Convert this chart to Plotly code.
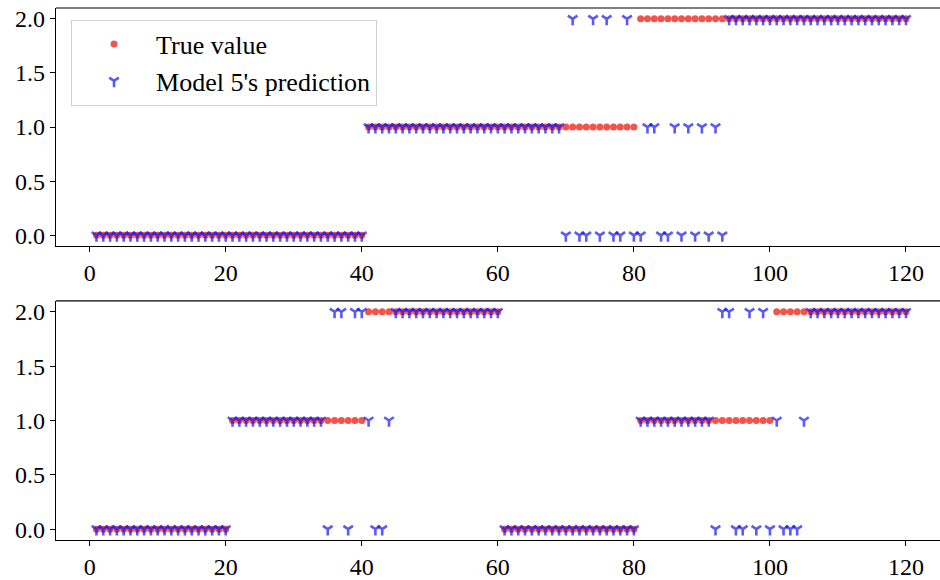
import plotly.graph_objects as go
from plotly.subplots import make_subplots

x_idx = list(range(1, 121))

# Top panel
true_top = [0] * 40 + [1] * 40 + [2] * 40
pred_top = ([0] * 40 + [1] * 29 +
            [0, 2, 0, 0, 2, 0, 2, 0, 0, 2, 0] +          # 70-80
            [0, 1, 1, 0, 0, 1, 0, 1, 0, 1, 0, 1, 0] +    # 81-93
            [2] * 27)                                     # 94-120

# Bottom panel
true_bot = [0] * 20 + [1] * 20 + [2] * 20 + [0] * 20 + [1] * 20 + [2] * 20
pred_bot = ([0] * 20 + [1] * 14 +
            [0, 2, 2, 0, 2, 2] +                          # 35-40
            [1, 0, 0, 1] +                                # 41-44
            [2] * 16 +                                    # 45-60
            [0] * 20 +                                    # 61-80
            [1] * 11 +                                    # 81-91
            [0, 2, 2, 0, 0, 2, 0, 2, 0] +                 # 92-100
            [1, 0, 0, 0, 1] +                             # 101-105
            [2] * 15)                                     # 106-120

x_ticks = [0, 20, 40, 60, 80, 100, 120]
y_ticks = [0.0, 0.5, 1.0, 1.5, 2.0]

FONT = "Liberation Serif"
RED = "rgba(240,40,30,0.8)"
BLUE = "rgba(20,20,240,0.7)"

fig = make_subplots(rows=2, cols=1, vertical_spacing=0.0)

for row, (t, p) in enumerate([(true_top, pred_top), (true_bot, pred_bot)], start=1):
    fig.add_trace(go.Scatter(
        x=x_idx, y=t, mode="markers", name="True value",
        marker=dict(symbol="circle", size=7, color=RED, line=dict(width=0)),
        showlegend=(row == 1)), row=row, col=1)
    fig.add_trace(go.Scatter(
        x=x_idx, y=p, mode="markers", name="Model 5's prediction",
        marker=dict(symbol="y-down", size=8, color=BLUE,
                    line=dict(width=2.6, color=BLUE)),
        showlegend=(row == 1)), row=row, col=1)

top_dom = [0.5524, 1.0]
bot_dom = [0.0, 0.4494]

axis_common = dict(showgrid=False, zeroline=False, showline=True,
                   linecolor="black", linewidth=1.2, ticks="outside",
                   ticklen=5, tickwidth=1.2, tickcolor="black",
                   tickfont=dict(family=FONT, size=24, color="black"))

fig.update_xaxes(range=[-4.95, 125.0], tickvals=x_ticks, **axis_common)
fig.update_yaxes(range=[-0.1, 2.1], tickvals=y_ticks, tickformat=".1f",
                 **axis_common)
fig.update_layout(yaxis=dict(domain=top_dom), yaxis2=dict(domain=bot_dom))

shapes = []
for dom in (top_dom, bot_dom):
    shapes.append(dict(type="line", xref="paper", yref="paper",
                       x0=0, x1=1, y0=dom[1], y1=dom[1],
                       line=dict(color="black", width=1.2)))

fig.update_layout(
    width=940, height=580,
    margin=dict(l=56, r=0, t=8, b=38),
    paper_bgcolor="white", plot_bgcolor="white",
    font=dict(family=FONT, color="black"),
    shapes=shapes,
    legend=dict(x=0.017, y=0.978, xanchor="left", yanchor="top",
                bgcolor="white", bordercolor="#d0d0d0", borderwidth=1,
                font=dict(family=FONT, size=26, color="black"),
                itemwidth=74, itemsizing="trace", tracegroupgap=0),
)

fig.write_html("out.html")
